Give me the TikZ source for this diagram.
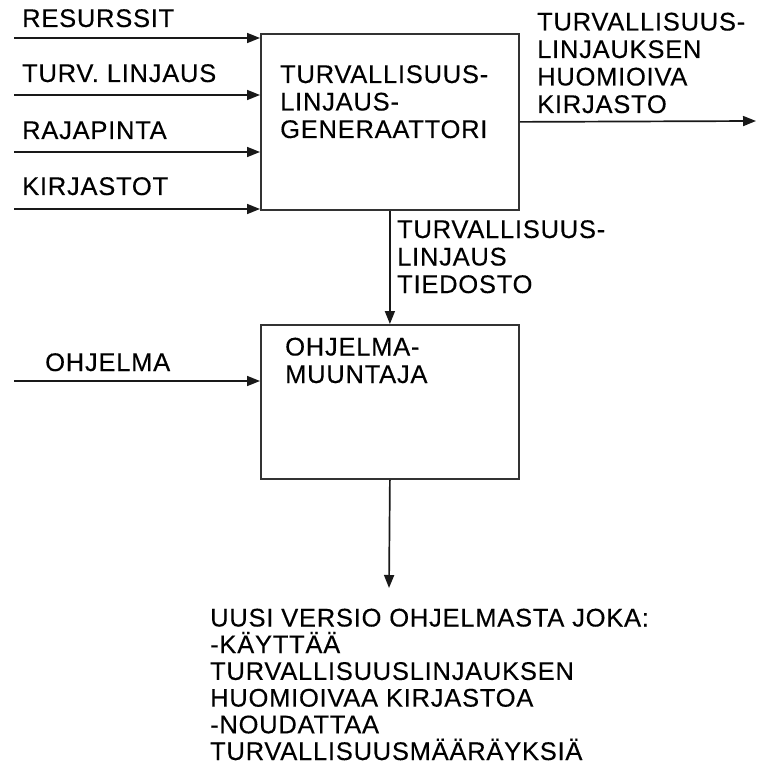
\documentclass[tikz,border=0pt]{standalone}
\usepackage{fontspec}
\setmainfont{Liberation Sans}[LetterSpace=3, FakeBold=0.3]
\usetikzlibrary{arrows.meta}

\begin{document}
\begin{tikzpicture}[x=1pt,y=-1pt,
  flow/.style={draw=black!90, line width=1.7pt, -{Triangle[length=13pt,width=10pt]}},
  block/.style={draw=black!80, line width=1.8pt, rectangle, inner sep=0pt, anchor=north west},
  lbl/.style={anchor=base west, inner sep=0pt, align=left, font=\fontsize{25.5}{27.5}\selectfont}]
  \useasboundingbox (0,0) rectangle (757,767);

  % process boxes
  \node[block, minimum width=258pt, minimum height=176pt] (gen) at (260,33) {};
  \node[block, minimum width=258pt, minimum height=154pt] (conv) at (260,324) {};

  % free ends of the connectors
  \coordinate (in1) at (14,38);
  \coordinate (in2) at (14,95);
  \coordinate (in3) at (14,152);
  \coordinate (in4) at (14,209);
  \coordinate (in5) at (14,381);
  \coordinate (out) at (756,121);
  \coordinate (result) at (389,588);

  % connectors
  \draw[flow] (in1) -- (in1 -| gen.west);
  \draw[flow] (in2) -- (in2 -| gen.west);
  \draw[flow] (in3) -- (in3 -| gen.west);
  \draw[flow] (in4) -- (in4 -| gen.west);
  \draw[flow] (gen.east) -- (out);
  \draw[flow] (gen.south) -- (conv.north);
  \draw[flow] (in5) -- (in5 -| conv.west);
  \draw[flow] (conv.south) -- (result);

  % texts (multi-line nodes are placed by the baseline of their last line)
  \node[lbl] (tres) at (22,27) {RESURSSIT};
  \node[lbl] (tlin) at (22,82) {TURV. LINJAUS};
  \node[lbl] (traj) at (22,139) {RAJAPINTA};
  \node[lbl] (tkir) at (22,195) {KIRJASTOT};
  \node[lbl] (tgen) at (280,138) {TURVALLISUUS-\\LINJAUS-\\GENERAATTORI};
  \node[lbl] (tout) at (537,113) {TURVALLISUUS-\\LINJAUKSEN\\HUOMIOIVA\\KIRJASTO};
  \node[lbl] (tfile) at (397,293) {TURVALLISUUS-\\LINJAUS\\TIEDOSTO};
  \node[lbl] (tconv) at (285,383) {OHJELMA-\\MUUNTAJA};
  \node[lbl] (tprog) at (45,371) {OHJELMA};
  \node[lbl, font=\fontsize{25.5}{26.7}\selectfont] (tres2) at (210,760)
    {UUSI VERSIO OHJELMASTA JOKA:\\-KÄYTTÄÄ\\TURVALLISUUSLINJAUKSEN\\HUOMIOIVAA KIRJASTOA\\-NOUDATTAA\\TURVALLISUUSMÄÄRÄYKSIÄ};
\end{tikzpicture}
\end{document}
